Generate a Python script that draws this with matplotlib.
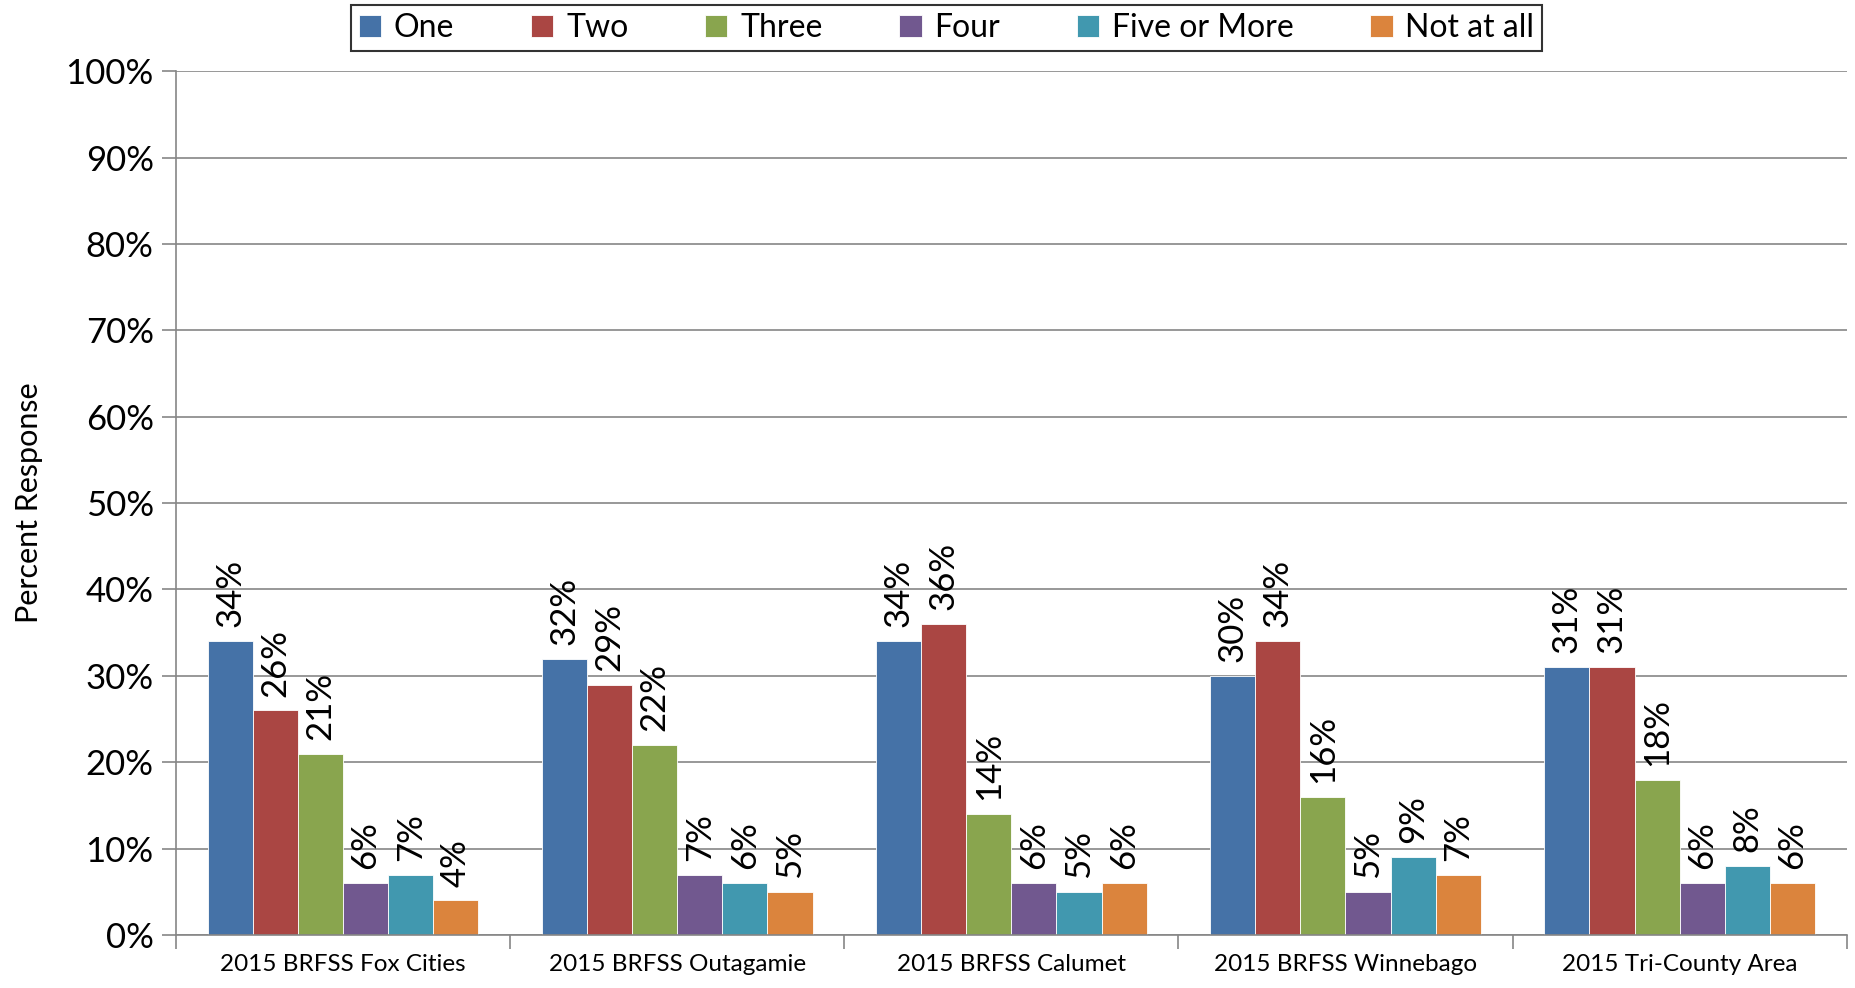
import matplotlib.pyplot as plt
import numpy as np

plt.rc("font", family=["Lato", "DejaVu Sans"])

categories = [
    "2015 BRFSS Fox Cities",
    "2015 BRFSS Outagamie",
    "2015 BRFSS Calumet",
    "2015 BRFSS Winnebago",
    "2015 Tri-County Area",
]
series_names = ["One", "Two", "Three", "Four", "Five or More", "Not at all"]
one = [34, 32, 34, 30, 31]
two = [26, 29, 36, 34, 31]
three = [21, 22, 14, 16, 18]
four = [6, 7, 6, 5, 6]
five_more = [7, 6, 5, 9, 8]
not_at_all = [4, 5, 6, 7, 6]
yticks = [0, 10, 20, 30, 40, 50, 60, 70, 80, 90, 100]

colors = ["#4572A7", "#AA4643", "#89A54E", "#71588F", "#4198AF", "#DB843D"]
series = [one, two, three, four, five_more, not_at_all]

fig = plt.figure(figsize=(18.56, 9.88), dpi=100)
ax = fig.add_axes([0.0948, 0.0536, 0.9002, 0.8744])

x = np.arange(len(categories))
width = 0.135
handles = []
for i, (vals, name, c) in enumerate(zip(series, series_names, colors)):
    pos = x + (i - 2.5) * width
    bars = ax.bar(pos, vals, width, color=c, edgecolor="white", linewidth=0.6, label=name)
    handles.append(bars)
    for p, v in zip(pos, vals):
        ax.annotate(f"{v}%", (p, v), xytext=(0, 10), textcoords="offset points",
                    ha="center", va="bottom", rotation=90, fontsize=25)

ax.set_xlim(-0.5, len(categories) - 0.5)
ax.set_ylim(0, 100)
ax.set_yticks(yticks)
ax.set_yticklabels([f"{t}%" for t in yticks], fontsize=25)
ax.set_xticks(x)
ax.set_xticklabels(categories, fontsize=17.5)
ax.tick_params(axis="x", length=0, pad=14)
ax.tick_params(axis="y", length=10, width=1.2, color="#868686", pad=6)
ax.set_xticks(np.arange(len(categories) + 1) - 0.5, minor=True)
ax.tick_params(axis="x", which="minor", length=10, width=1.2, color="#868686")

ax.yaxis.grid(True, color="#868686", linewidth=1.2)
ax.set_axisbelow(True)
for s in ["top", "right"]:
    ax.spines[s].set_visible(False)
ax.spines["left"].set_color("#868686")
ax.spines["bottom"].set_color("#868686")
ax.spines["left"].set_linewidth(1.2)
ax.spines["bottom"].set_linewidth(1.2)

ax.set_ylabel("Percent Response", fontsize=22, labelpad=16)

leg = fig.legend(handles=handles, labels=series_names, loc="center", bbox_to_anchor=(0.51, 0.9715),
                 ncol=6, fontsize=23, frameon=True, fancybox=False, edgecolor="black",
                 handlelength=0.7, handleheight=0.7, handletextpad=0.4, columnspacing=2.4,
                 borderpad=0.25, borderaxespad=0)
leg.get_frame().set_linewidth(1.5)

fig.savefig("out.png", dpi=100)
